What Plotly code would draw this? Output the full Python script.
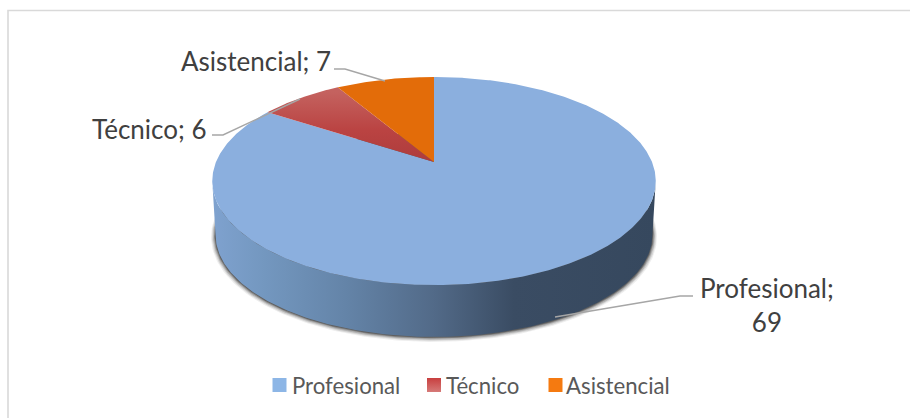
import numpy as np
import plotly.graph_objects as go

categories = ["Profesional", "Técnico", "Asistencial"]
values = [69, 6, 7]
slice_colors = ["#8BAFDE", "#BC4A4A", "#E36C09"]
legend_colors = ["#8DB6E6", "#CC4B4B", "#F57A10"]

W, H = 910, 418
CX, APEX_Y = 434, 162
HALF_W, HALF_H, PERSP = 218.0, 100.6, 0.183
TEXT = "#404040"
LEADER = "#A6A6A6"


def project(theta, cx=CX, y0=APEX_Y, a=HALF_W, b=HALF_H):
    """Perspective projection of a circle; theta is clockwise from the back of the pie."""
    u, v = np.sin(theta), np.cos(theta)
    w = 1 + PERSP * v
    return cx + a * u / w, y0 - b * v / w


def outline(pts, **proj):
    return project(np.linspace(0, 2 * np.pi, pts), **proj)


fig = go.Figure()

# chart frame: only top and left edges show in the crop
fig.add_trace(go.Scatter(x=[8, 8, W], y=[H, 10.5, 10.5], mode="lines",
                         line=dict(color="#D9D9D9", width=1.6),
                         hoverinfo="skip", showlegend=False))

# soft shadow below the wall
BOTTOM = dict(y0=216.3, a=HALF_W * 0.985, b=HALF_H * 0.98)
for grow, alpha in [(4.5, 0.08), (3.5, 0.13), (2.5, 0.2), (1.5, 0.3), (0.7, 0.42)]:
    sx, sy = outline(361, y0=BOTTOM["y0"] + grow * 0.3, a=BOTTOM["a"] + grow, b=BOTTOM["b"] + grow * 0.65)
    fig.add_trace(go.Scatter(x=sx, y=sy, mode="lines", fill="toself", line=dict(width=0),
                             fillcolor=f"rgba(40,40,40,{alpha})", hoverinfo="skip", showlegend=False))

# side wall: between the widest points of the top and bottom faces, along the front
widest = np.arccos(-PERSP)
th_front = np.linspace(widest, 2 * np.pi - widest, 240)
tx, ty = project(th_front)
bx, by = project(th_front, **BOTTOM)
fig.add_trace(go.Scatter(
    x=np.r_[tx, bx[::-1]], y=np.r_[ty, by[::-1]], mode="lines", fill="toself", line=dict(width=0),
    fillgradient=dict(type="horizontal", start=212, stop=656, colorscale=[
        [0.0, "#7FA2CF"], [0.12, "#7397BF"], [0.30, "#6484A8"], [0.50, "#526A88"],
        [0.68, "#3A4C63"], [1.0, "#36485E"]]),
    hoverinfo="skip", showlegend=False))

# top face slices, clockwise from 12 o'clock
total = sum(values)
start = 0.0
for name, val, col in zip(categories, values, slice_colors):
    end = start + val / total * 2 * np.pi
    th = np.linspace(start, end, max(int(val * 8), 30))
    px, py = project(th)
    tr = dict(x=np.r_[CX, px, CX], y=np.r_[APEX_Y, py, APEX_Y], mode="lines", fill="toself",
              line=dict(width=0), name=name, hoverinfo="name", showlegend=False)
    if name == "Técnico":
        tr["fillgradient"] = dict(type="vertical", start=92, stop=162, colorscale=[
            [0.0, "#C4625F"], [0.55, "#BA4342"], [1.0, "#AE3C3C"]])
    else:
        tr["fillcolor"] = col
    fig.add_trace(go.Scatter(**tr))
    start = end

# leader lines
for lx, ly in [([334, 345, 385], [69, 69, 81]),
               ([212, 223, 300], [135, 135, 99]),
               ([555, 680, 693], [317, 296, 296])]:
    fig.add_trace(go.Scatter(x=lx, y=ly, mode="lines", line=dict(color=LEADER, width=1.4),
                             hoverinfo="skip", showlegend=False))

# data labels
labels = [
    (f"{categories[2]}; {values[2]}", 255.5, 61),
    (f"{categories[1]}; {values[1]}", 149.5, 129),
    (f"{categories[0]};<br>{values[0]}", 767, 305),
]
annotations = [dict(x=x, y=y, text=t, showarrow=False, xanchor="center", yanchor="middle",
                    align="center", font=dict(family="Lato", size=26, color=TEXT))
               for t, x, y in labels]

# legend
LEG_Y = 385
for name, col, sw_x, txt_x in zip(categories, legend_colors, [279.5, 434, 555.5], [290, 444, 564]):
    marker = dict(symbol="square", size=14, color=col, line=dict(width=0))
    if name == "Técnico":
        marker["color"] = "#C83F3F"
        marker["gradient"] = dict(type="vertical", color="#D67A78")
    fig.add_trace(go.Scatter(x=[sw_x], y=[LEG_Y], mode="markers", marker=marker,
                             hoverinfo="skip", showlegend=False))
    annotations.append(dict(x=txt_x, y=LEG_Y, text=name, showarrow=False, xanchor="left",
                            yanchor="middle", font=dict(family="Lato", size=22.2, color="#595959")))

fig.update_layout(
    width=W, height=H, margin=dict(l=0, r=0, t=0, b=0),
    paper_bgcolor="white", plot_bgcolor="white",
    xaxis=dict(range=[0, W], visible=False, fixedrange=True),
    yaxis=dict(range=[H, 0], visible=False, fixedrange=True),
    annotations=annotations, showlegend=False,
)
fig.write_html("out.html", config={"displayModeBar": False},
               post_script="document.body.style.margin='0';document.documentElement.style.overflow='hidden';")
